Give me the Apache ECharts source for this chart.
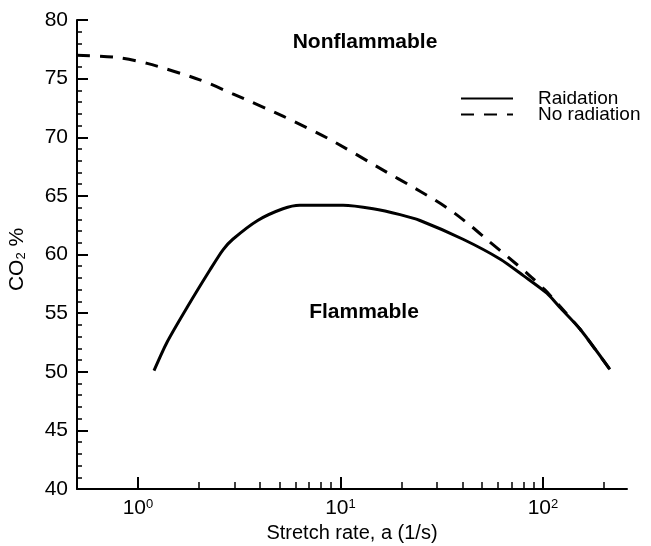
<!DOCTYPE html>
<html>
<head>
<meta charset="utf-8">
<script src="https://cdn.jsdelivr.net/npm/echarts@6/dist/echarts.min.js"></script>
<style>
  html, body { margin: 0; padding: 0; background: #fff; }
</style>
</head>
<body>
<div id="main" style="width: 651px;height:546px;"></div>
<script>
// stretch rate a (1/s) vs CO2 % at extinction
var radA   = [1.2, 1.39, 1.75, 2.27, 2.63, 2.94, 3.9, 5.2, 6.3, 10.3, 14.5, 19.7, 24.7, 40.3, 61.6, 80, 104.5, 121, 153, 214];
var radCO2 = [50.1, 52.5, 55.5, 58.7, 60.4, 61.3, 62.9, 63.9, 64.2, 64.2, 63.9, 63.4, 62.9, 61.3, 59.6, 58.2, 56.7, 55.5, 53.6, 50.2];

var noRadA   = [0.5, 0.79, 1.11, 2.02, 2.94, 5.2, 8.9, 17, 22, 28.3, 34.8, 43.6, 53.5, 67, 83.5, 102, 121, 153, 214];
var noRadCO2 = [77.0, 76.8, 76.3, 74.9, 73.7, 71.8, 69.8, 67.0, 65.9, 64.8, 63.8, 62.5, 61.2, 59.8, 58.4, 57.0, 55.6, 53.6, 50.2];

var majorTicks = [1, 10, 100];
var minorTicks = [2, 3, 4, 5, 6, 7, 8, 9, 20, 30, 40, 50, 60, 70, 80, 90, 200];

var seriesNames = ['Raidation', 'No radiation'];

function pairs(xs, ys) {
  return xs.map(function (x, i) { return [x, ys[i]]; });
}

var FONT = 'Liberation Sans';
var chartDom = document.getElementById('main');
var myChart = echarts.init(chartDom);
var option;

option = {
  animation: false,
  textStyle: { fontFamily: FONT, color: '#000' },
  grid: { left: 77, right: 24, top: 20, bottom: 57, containLabel: false, outerBoundsMode: 'none' },
  legend: {
    orient: 'vertical',
    left: 460,
    top: 89,
    padding: 0,
    itemWidth: 52,
    itemHeight: 14,
    itemGap: -3,
    data: seriesNames,
    itemStyle: { opacity: 0 },
    textStyle: { fontFamily: FONT, fontSize: 19, color: '#000', padding: [0, 0, 0, 20] }
  },
  xAxis: [
    {
      type: 'log',
      logBase: 10,
      min: 0.5,
      max: 260,
      name: 'Stretch rate, a (1/s)',
      nameLocation: 'middle',
      nameGap: 32,
      nameTextStyle: { fontFamily: FONT, fontSize: 20, color: '#000' },
      axisLine: { lineStyle: { color: '#000', width: 2 } },
      axisTick: { inside: true, length: 12, lineStyle: { color: '#000', width: 2 }, customValues: majorTicks },
      axisLabel: {
        margin: 9,
        customValues: majorTicks,
        formatter: function (v) {
          return '{b|10}{e|' + Math.round(Math.log10(v)) + '}';
        },
        rich: {
          b: { fontFamily: FONT, fontSize: 21, color: '#000', verticalAlign: 'bottom' },
          e: { fontFamily: FONT, fontSize: 13, color: '#000', verticalAlign: 'top' }
        }
      },
      splitLine: { show: false }
    },
    {
      type: 'log',
      logBase: 10,
      min: 0.5,
      max: 260,
      position: 'bottom',
      axisLine: { show: false },
      axisTick: { inside: true, length: 7, lineStyle: { color: '#000', width: 1.5 }, customValues: minorTicks },
      axisLabel: { show: false },
      splitLine: { show: false }
    }
  ],
  yAxis: {
    type: 'value',
    min: 40,
    max: 80,
    interval: 5,
    name: 'CO{s|2} %',
    nameLocation: 'middle',
    nameGap: 49,
    nameRotate: 90,
    nameTextStyle: {
      fontFamily: FONT, fontSize: 21, color: '#000', padding: [0, 10, 0, 0],
      rich: {
        s: { fontFamily: FONT, fontSize: 13, color: '#000', verticalAlign: 'bottom', padding: [8, 0, 0, 0] }
      }
    },
    axisLine: { show: true, lineStyle: { color: '#000', width: 2 } },
    axisTick: { show: true, inside: true, length: 11, lineStyle: { color: '#000', width: 2 } },
    minorTick: { show: true, splitNumber: 5, length: 5, lineStyle: { color: '#000', width: 1.5 } },
    axisLabel: { fontFamily: FONT, fontSize: 21, color: '#000', margin: 9 },
    splitLine: { show: false }
  },
  graphic: [
    {
      type: 'text', x: 365, y: 42,
      style: { text: 'Nonflammable', font: 'bold 21px "Liberation Sans"', fill: '#000', align: 'center', verticalAlign: 'middle' }
    },
    {
      type: 'text', x: 364, y: 312,
      style: { text: 'Flammable', font: 'bold 21px "Liberation Sans"', fill: '#000', align: 'center', verticalAlign: 'middle' }
    }
  ],
  series: [
    {
      name: seriesNames[0],
      type: 'line',
      xAxisIndex: 0,
      smooth: 0.25,
      symbol: 'none',
      lineStyle: { color: '#000', width: 3 },
      itemStyle: { color: '#000' },
      data: pairs(radA, radCO2)
    },
    {
      name: seriesNames[1],
      type: 'line',
      xAxisIndex: 0,
      smooth: 0.25,
      symbol: 'none',
      lineStyle: { color: '#000', width: 3, type: [13, 10] },
      itemStyle: { color: '#000' },
      data: pairs(noRadA, noRadCO2)
    }
  ]
};

option && myChart.setOption(option);
</script>
</body>
</html>
